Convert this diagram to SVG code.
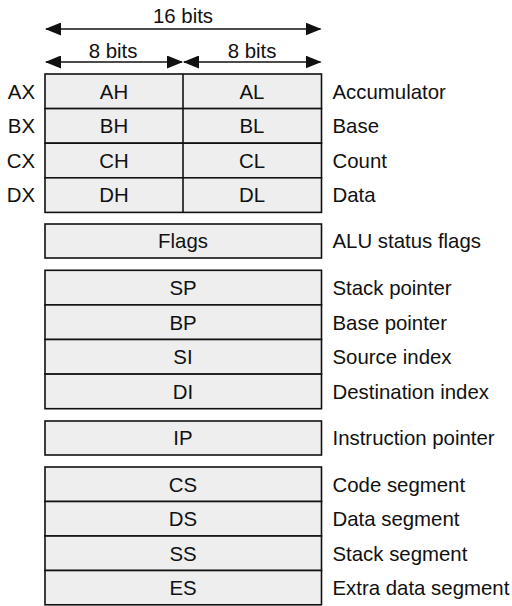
<svg xmlns="http://www.w3.org/2000/svg" width="512" height="606" viewBox="0 0 512 606">
<defs>
<style>
.box{fill:#eeeeee;stroke:#111;stroke-width:1.6}
.div{stroke:#111;stroke-width:1.6}
text{font-family:"Liberation Sans",Arial,Helvetica,sans-serif;font-size:20.4px;fill:#111}
.c{text-anchor:middle}
.r{text-anchor:end}
.arr{stroke:#111;stroke-width:1.6;fill:none;marker-start:url(#ah);marker-end:url(#ah)}
</style>
<marker id="ah" viewBox="0 0 16 13" refX="15" refY="6.5" markerWidth="16" markerHeight="13" markerUnits="userSpaceOnUse" orient="auto-start-reverse">
<path d="M0,0 L16,6.5 L0,13 z" fill="#111"/>
</marker>
</defs>
<rect width="512" height="606" fill="#fff"/>

<g id="connectors">
<line class="arr" x1="46" y1="29" x2="320.5" y2="29"/>
<line class="arr" x1="46" y1="62" x2="182" y2="62"/>
<line class="arr" x1="184" y1="62" x2="320.5" y2="62"/>
</g>

<g id="labels-bits">
<text class="c" x="183" y="23">16 bits</text>
<text class="c" x="113" y="58">8 bits</text>
<text class="c" x="252" y="58">8 bits</text>
</g>

<g id="general">
<g id="AX">
<rect class="box" x="45" y="74" width="276.5" height="34.6"/>
<line class="div" x1="183" y1="74" x2="183" y2="108.6"/>
<text class="r" x="35" y="98.6">AX</text>
<text class="c" x="114" y="98.6">AH</text>
<text class="c" x="252" y="98.6">AL</text>
<text x="332.5" y="98.6">Accumulator</text>
</g>
<g id="BX">
<rect class="box" x="45" y="108.6" width="276.5" height="34.6"/>
<line class="div" x1="183" y1="108.6" x2="183" y2="143.2"/>
<text class="r" x="35" y="133.2">BX</text>
<text class="c" x="114" y="133.2">BH</text>
<text class="c" x="252" y="133.2">BL</text>
<text x="332.5" y="133.2">Base</text>
</g>
<g id="CX">
<rect class="box" x="45" y="143.2" width="276.5" height="34.6"/>
<line class="div" x1="183" y1="143.2" x2="183" y2="177.8"/>
<text class="r" x="35" y="167.8">CX</text>
<text class="c" x="114" y="167.8">CH</text>
<text class="c" x="252" y="167.8">CL</text>
<text x="332.5" y="167.8">Count</text>
</g>
<g id="DX">
<rect class="box" x="45" y="177.8" width="276.5" height="34.6"/>
<line class="div" x1="183" y1="177.8" x2="183" y2="212.4"/>
<text class="r" x="35" y="202.4">DX</text>
<text class="c" x="114" y="202.4">DH</text>
<text class="c" x="252" y="202.4">DL</text>
<text x="332.5" y="202.4">Data</text>
</g>
</g>

<g id="Flags">
<rect class="box" x="45" y="224" width="276.5" height="34"/>
<text class="c" x="183" y="248.3">Flags</text>
<text x="332.5" y="248.3">ALU status flags</text>
</g>

<g id="pointers">
<g id="SP">
<rect class="box" x="45" y="270.3" width="276.5" height="34.6"/>
<text class="c" x="183" y="294.9">SP</text>
<text x="332.5" y="294.9">Stack pointer</text>
</g>
<g id="BP">
<rect class="box" x="45" y="304.9" width="276.5" height="34.6"/>
<text class="c" x="183" y="329.5">BP</text>
<text x="332.5" y="329.5">Base pointer</text>
</g>
<g id="SI">
<rect class="box" x="45" y="339.5" width="276.5" height="34.6"/>
<text class="c" x="183" y="364.1">SI</text>
<text x="332.5" y="364.1">Source index</text>
</g>
<g id="DI">
<rect class="box" x="45" y="374.1" width="276.5" height="34.6"/>
<text class="c" x="183" y="398.7">DI</text>
<text x="332.5" y="398.7">Destination index</text>
</g>
</g>

<g id="IP">
<rect class="box" x="45" y="421" width="276.5" height="34"/>
<text class="c" x="183" y="445.3">IP</text>
<text x="332.5" y="445.3">Instruction pointer</text>
</g>

<g id="segments">
<g id="CS">
<rect class="box" x="45" y="467" width="276.5" height="34.5"/>
<text class="c" x="183" y="491.5">CS</text>
<text x="332.5" y="491.5">Code segment</text>
</g>
<g id="DS">
<rect class="box" x="45" y="501.5" width="276.5" height="34.5"/>
<text class="c" x="183" y="526">DS</text>
<text x="332.5" y="526">Data segment</text>
</g>
<g id="SS">
<rect class="box" x="45" y="536" width="276.5" height="34.5"/>
<text class="c" x="183" y="560.5">SS</text>
<text x="332.5" y="560.5">Stack segment</text>
</g>
<g id="ES">
<rect class="box" x="45" y="570.5" width="276.5" height="34.3"/>
<text class="c" x="183" y="594.9">ES</text>
<text x="332.5" y="594.9">Extra data segment</text>
</g>
</g>
</svg>
